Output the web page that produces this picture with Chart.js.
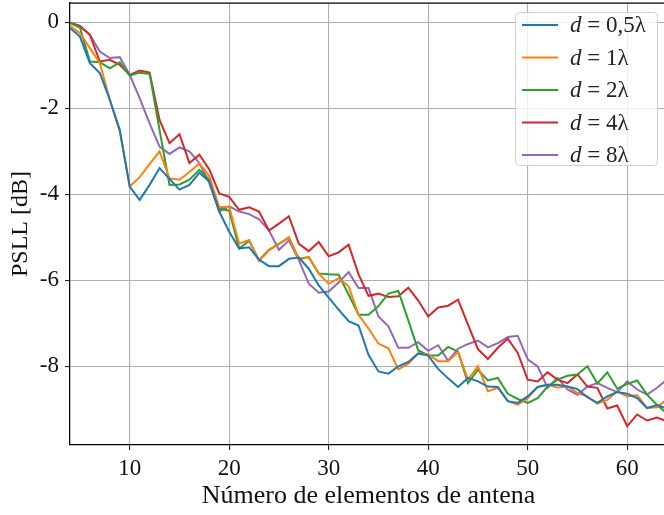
<!DOCTYPE html>
<html>
<head>
<meta charset="utf-8">
<script src="https://cdn.jsdelivr.net/npm/chart.js@4.4.1/dist/chart.umd.min.js"></script>
<style>
  html, body { margin: 0; padding: 0; background: #fff; overflow: hidden; }
  canvas { display: block; }
</style>
</head>
<body>
<canvas id="chart" width="670" height="515"></canvas>
<script>
// number of antenna elements, 4..64
const elements = [];
for (let n = 4; n <= 64; n++) elements.push(n);

const spacings = ["0,5λ", "1λ", "2λ", "4λ", "8λ"];
const colors = ["#1f77b4", "#ff7f0e", "#2ca02c", "#d62728", "#9467bd"];

const xTicks = [10, 20, 30, 40, 50, 60];
const yTicks = [-8, -6, -4, -2, 0];

// PSLL [dB] per spacing
const psll05 = [-0.13, -0.33, -0.95, -1.18, -1.8, -2.5, -3.82, -4.13, -3.78, -3.39,
  -3.64, -3.89, -3.78, -3.5, -3.7, -4.4, -4.87, -5.26, -5.23, -5.52,
  -5.67, -5.67, -5.5, -5.47, -5.73, -6.12, -6.4, -6.68, -6.95, -7.05,
  -7.73, -8.12, -8.17, -8.0, -7.9, -7.7, -7.75, -8.06, -8.28, -8.48,
  -8.27, -8.35, -8.47, -8.48, -8.81, -8.85, -8.7, -8.48, -8.43, -8.43,
  -8.47, -8.53, -8.72, -8.85, -8.7, -8.6, -8.64, -8.74, -8.97, -8.9, -8.98];

const psll1 = [-0.08, -0.25, -0.6, -0.95, -1.8, -2.53, -3.82, -3.6, -3.3, -3.0,
  -3.63, -3.66, -3.48, -3.28, -3.58, -4.3, -4.29, -5.15, -5.06, -5.55,
  -5.3, -5.15, -5.0, -5.52, -5.46, -5.84, -6.08, -5.95, -6.14, -6.8,
  -7.12, -7.47, -7.58, -8.07, -7.94, -7.7, -7.72, -7.88, -7.88, -7.67,
  -8.31, -8.0, -8.58, -8.5, -8.81, -8.89, -8.74, -8.48, -8.43, -8.49,
  -8.47, -8.62, -8.7, -8.87, -8.78, -8.58, -8.7, -8.67, -8.97, -8.95, -8.77];

const psll2 = [-0.02, -0.12, -0.91, -0.93, -1.07, -0.93, -1.24, -1.17, -1.2, -2.5,
  -3.78, -3.77, -3.66, -3.43, -3.66, -4.33, -4.38, -5.26, -5.08, -5.53,
  -5.29, -5.15, -5.01, -5.5, -5.46, -5.84, -5.86, -5.87, -6.33, -6.8,
  -6.8, -6.6, -6.31, -6.25, -6.93, -7.63, -7.74, -7.75, -7.55, -7.66,
  -8.39, -8.08, -8.33, -8.27, -8.64, -8.76, -8.85, -8.74, -8.47, -8.31,
  -8.22, -8.19, -8.0, -8.4, -8.14, -8.52, -8.41, -8.33, -8.66, -8.9, -9.1];

const psll4 = [-0.01, -0.09, -0.29, -0.91, -0.87, -0.99, -1.22, -1.12, -1.17, -2.27,
  -2.81, -2.6, -3.27, -3.08, -3.42, -3.98, -4.06, -4.36, -4.3, -4.4,
  -4.84, -4.68, -4.51, -5.15, -5.32, -5.11, -5.44, -5.35, -5.17, -5.86,
  -6.36, -6.31, -6.39, -6.37, -6.17, -6.47, -6.84, -6.63, -6.59, -6.45,
  -7.03, -7.6, -7.83, -7.57, -7.36, -7.69, -8.31, -8.35, -8.14, -8.31,
  -8.39, -8.19, -8.47, -8.5, -8.98, -8.91, -9.39, -9.12, -9.26, -9.19, -9.28];

const psll8 = [0.0, -0.08, -0.29, -0.68, -0.83, -0.81, -1.22, -1.76, -2.35, -2.89,
  -3.06, -2.91, -3.0, -3.27, -3.74, -4.4, -4.28, -4.4, -4.46, -4.58,
  -4.84, -5.29, -5.07, -5.53, -6.08, -6.29, -6.26, -6.05, -5.81, -6.18,
  -6.18, -6.84, -7.07, -7.57, -7.57, -7.44, -7.64, -7.51, -7.87, -7.59,
  -7.48, -7.4, -7.56, -7.46, -7.32, -7.29, -7.84, -8.0, -8.5, -8.27,
  -8.54, -8.66, -8.47, -8.39, -8.5, -8.6, -8.35, -8.54, -8.66, -8.5, -8.31];

const series = [psll05, psll1, psll2, psll4, psll8];

const FONT = "'Liberation Serif', 'Times New Roman', serif";

// top/right spines
const framePlugin = {
    id: "frame",
    afterDraw(chart) {
        const { ctx, chartArea: a } = chart;
        ctx.save();
        ctx.strokeStyle = "#000";
        ctx.lineWidth = 1.25;
        ctx.beginPath();
        ctx.moveTo(a.left, a.top);
        ctx.lineTo(a.right, a.top);
        ctx.lineTo(a.right, a.bottom);
        ctx.stroke();
        ctx.restore();
    }
};

// matplotlib-like legend in the upper right corner, italic "d"
const legendPlugin = {
    id: "mplLegend",
    afterDraw(chart) {
        const { ctx, chartArea: a } = chart;
        const ds = chart.data.datasets;
        const boxW = 142, boxH = 153;
        const x0 = a.right - 10 - boxW, y0 = a.top + 9;
        ctx.save();
        ctx.fillStyle = "rgba(255,255,255,0.8)";
        ctx.strokeStyle = "#d0d0d0";
        ctx.lineWidth = 1;
        ctx.beginPath();
        ctx.roundRect(x0 + 0.5, y0 + 0.5, boxW, boxH, 4);
        ctx.fill();
        ctx.stroke();

        ds.forEach((d, i) => {
            const cy = y0 + 13 + i * 32.5;
            ctx.strokeStyle = d.borderColor;
            ctx.lineWidth = 2;
            ctx.beginPath();
            ctx.moveTo(x0 + 7, cy);
            ctx.lineTo(x0 + 43, cy);
            ctx.stroke();

            ctx.fillStyle = "#222";
            ctx.textBaseline = "middle";
            ctx.textAlign = "left";
            let tx = x0 + 55;
            ctx.font = "italic 23px " + FONT;
            ctx.fillText("d", tx, cy + 1);
            tx += ctx.measureText("d").width;
            ctx.font = "23px " + FONT;
            ctx.fillText(" = " + spacings[i], tx, cy + 1);
        });
        ctx.restore();
    }
};

new Chart(document.getElementById("chart"), {
    type: "line",
    data: {
        datasets: series.map((s, i) => ({
            label: "d = " + spacings[i],
            data: s.map((v, j) => ({ x: elements[j], y: v })),
            borderColor: colors[i],
            backgroundColor: colors[i],
            borderWidth: 2,
            pointRadius: 0,
            tension: 0,
            fill: false
        }))
    },
    options: {
        responsive: false,
        animation: false,
        layout: { padding: { top: 3, right: 3, left: 0, bottom: 0 } },
        plugins: {
            legend: { display: false },
            tooltip: { enabled: false }
        },
        scales: {
            x: {
                type: "linear",
                min: 4,
                max: 64,
                afterBuildTicks: s => { s.ticks = xTicks.map(v => ({ value: v })); },
                afterFit: s => { s.height = 70; s.paddingLeft = 0; s.paddingRight = 0; },
                grid: { color: "#b0b0b0", lineWidth: 1.1, tickLength: 5, tickColor: "#222" },
                border: { color: "#000", width: 1.25 },
                ticks: {
                    color: "#111",
                    padding: 5,
                    maxRotation: 0,
                    font: { family: FONT, size: 23 }
                },
                title: {
                    display: true,
                    text: "Número de elementos de antena",
                    color: "#111",
                    padding: { top: 0, bottom: 3 },
                    font: { family: FONT, size: 26 }
                }
            },
            y: {
                min: -9.83,
                max: 0.45,
                afterBuildTicks: s => { s.ticks = yTicks.map(v => ({ value: v })); },
                afterFit: s => { s.width = 70; s.paddingTop = 0; s.paddingBottom = 0; },
                grid: { color: "#b0b0b0", lineWidth: 1.1, tickLength: 5, tickColor: "#222" },
                border: { color: "#000", width: 1.25 },
                ticks: {
                    color: "#111",
                    padding: 6,
                    callback: v => String(v),
                    font: { family: FONT, size: 23 }
                },
                title: {
                    display: true,
                    text: "PSLL [dB]",
                    color: "#111",
                    padding: { top: 6, bottom: 0 },
                    font: { family: FONT, size: 24 }
                }
            }
        }
    },
    plugins: [framePlugin, legendPlugin]
});
</script>
</body>
</html>
